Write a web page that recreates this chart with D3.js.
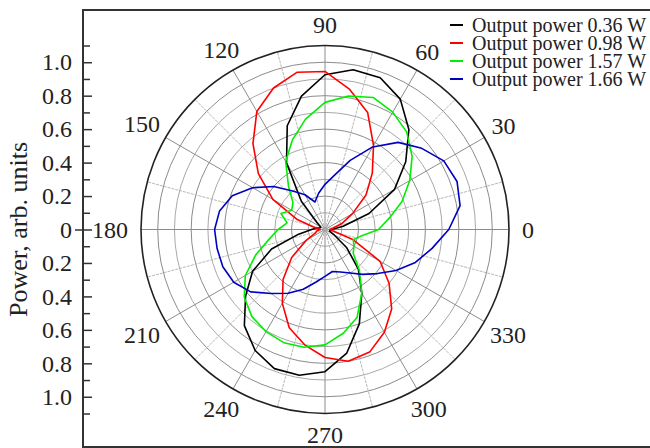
<!DOCTYPE html>
<html>
<head>
<meta charset="utf-8">
<script src="https://cdn.jsdelivr.net/npm/d3@7"></script>
<style>
  body { margin: 0; background: #fff; }
  text { font-family: "Liberation Serif", "Times New Roman", serif; fill: #222; }
</style>
</head>
<body>
<div id="chart"></div>
<script>
// angles in degrees, every 10 deg
var angles = d3.range(0, 360, 10);

var black = [0.04, 0.11, 0.28, 0.48, 0.63, 0.78, 0.90, 0.965, 0.97, 0.925, 0.81, 0.66,
             0.46, 0.22, 0.06, 0.03, 0.03, 0.05, 0.08, 0.16, 0.34, 0.50, 0.62, 0.75,
             0.835, 0.885, 0.885, 0.85, 0.75, 0.60, 0.44, 0.31, 0.17, 0.06, 0.03, 0.03];
var red = [0.03, 0.05, 0.11, 0.19, 0.32, 0.44, 0.58, 0.745, 0.85, 0.945, 0.955, 0.90,
           0.815, 0.67, 0.52, 0.36, 0.18, 0.06, 0.03, 0.05, 0.06, 0.13, 0.26, 0.39,
           0.51, 0.625, 0.70, 0.765, 0.80, 0.78, 0.71, 0.62, 0.50, 0.38, 0.18, 0.05];
var green = [0.32, 0.39, 0.49, 0.585, 0.68, 0.76, 0.81, 0.84, 0.81, 0.76, 0.67, 0.57,
             0.47, 0.34, 0.25, 0.23, 0.28, 0.23, 0.28, 0.34, 0.44, 0.55, 0.63, 0.68,
             0.705, 0.72, 0.715, 0.69, 0.63, 0.56, 0.44, 0.32, 0.22, 0.20, 0.18, 0.22];
var blue = [0.74, 0.82, 0.84, 0.82, 0.755, 0.68, 0.57, 0.44, 0.33, 0.27, 0.22, 0.175,
            0.24, 0.30, 0.40, 0.50, 0.59, 0.64, 0.66, 0.655, 0.65, 0.63, 0.58, 0.50,
            0.44, 0.38, 0.32, 0.28, 0.255, 0.27, 0.30, 0.35, 0.41, 0.49, 0.575, 0.65];

var seriesNames = ['Output power 0.36 W', 'Output power 0.98 W', 'Output power 1.57 W', 'Output power 1.66 W'];
var seriesColors = ['#000000', '#ff0000', '#00ee00', '#0000c0'];
var seriesData = [black, red, green, blue];

var angleLabels = d3.range(0, 360, 30);
var yTicksMajor = [-1.0, -0.8, -0.6, -0.4, -0.2, 0, 0.2, 0.4, 0.6, 0.8, 1.0];
var yTicksMinor = [-1.1, -0.9, -0.7, -0.5, -0.3, -0.1, 0.1, 0.3, 0.5, 0.7, 0.9, 1.1];
var gridCircles = [0.1, 0.2, 0.3, 0.4, 0.5, 0.6, 0.7, 0.8, 0.9, 1.0];

var w = 650, h = 448;
var cx = 325, cy = 229.5;

var svg = d3.select('#chart').append('svg')
	.attr('width', w)
	.attr('height', h);

var rscale = d3.scaleLinear().domain([0, 1.1]).range([0, 184]);
var yscale = d3.scaleLinear().domain([-1.1, 1.1]).range([cy + 184, cy - 184]);

// frame
svg.append('rect')
	.attr('x', 83).attr('y', 10)
	.attr('width', 700).attr('height', 437)
	.attr('fill', 'none')
	.attr('stroke', '#333')
	.attr('stroke-width', 2);

var polar = svg.append('g').attr('transform', 'translate(' + cx + ',' + cy + ')');

// grid circles
polar.selectAll('.gc').data(gridCircles).enter().append('circle')
	.attr('class', 'gc')
	.attr('r', d => rscale(d))
	.attr('fill', 'none')
	.attr('stroke', (d, i) => i % 2 ? '#8c8c8c' : '#a8a8a8')
	.attr('stroke-width', 1);

// spokes every 15 deg
var spokes = d3.range(0, 360, 15);
polar.selectAll('.sp').data(spokes).enter().append('line')
	.attr('class', 'sp')
	.attr('x1', 0).attr('y1', 0)
	.attr('x2', d => rscale(1.1) * Math.cos(d * Math.PI / 180))
	.attr('y2', d => -rscale(1.1) * Math.sin(d * Math.PI / 180))
	.attr('stroke', d => d % 30 ? '#b8b8b8' : '#8c8c8c')
	.attr('stroke-dasharray', d => d % 30 ? '3,1' : null)
	.attr('stroke-width', 1);

// outer circle
polar.append('circle')
	.attr('r', rscale(1.1))
	.attr('fill', 'none')
	.attr('stroke', '#222')
	.attr('stroke-width', 1.6);

// curves
var line = d3.lineRadial()
	.angle((d, i) => Math.PI / 2 - angles[i] * Math.PI / 180)
	.radius(d => rscale(d))
	.curve(d3.curveLinearClosed);

seriesData.forEach(function(s, k) {
	polar.append('path')
		.datum(s)
		.attr('fill', 'none')
		.attr('stroke', seriesColors[k])
		.attr('stroke-width', 1.6)
		.attr('stroke-linejoin', 'round')
		.attr('d', line);
});

// angle labels, pushed out by half their size
function labelR(d) {
	var t = d * Math.PI / 180, hw = String(d).length * 6;
	return 197 + Math.abs(Math.cos(t)) * hw + Math.abs(Math.sin(t)) * 8 - 6 * Math.abs(Math.sin(2 * t));
}
polar.selectAll('.al').data(angleLabels).enter().append('text')
	.attr('class', 'al')
	.attr('font-size', 24)
	.attr('text-anchor', 'middle')
	.attr('dominant-baseline', 'central')
	.attr('x', d => labelR(d) * Math.cos(d * Math.PI / 180))
	.attr('y', d => -labelR(d) * Math.sin(d * Math.PI / 180))
	.text(d => d);

// y axis (ticks point inward)
var yaxis = d3.axisLeft(yscale)
	.tickValues(yTicksMajor)
	.tickSizeInner(-9)
	.tickSizeOuter(0)
	.tickPadding(11)
	.tickFormat(d => d === 0 ? '0' : d3.format('.1f')(Math.abs(d)));

var gy = svg.append('g')
	.attr('transform', 'translate(83,0)')
	.call(yaxis);
gy.select('.domain').remove();
gy.selectAll('line').attr('stroke', '#333').attr('stroke-width', 1.5);
gy.selectAll('text')
	.attr('font-size', 24)
	.attr('font-family', '"Liberation Serif", serif')
	.attr('fill', '#222');

var gm = svg.append('g')
	.attr('transform', 'translate(83,0)')
	.call(d3.axisLeft(yscale).tickValues(yTicksMinor).tickSizeInner(-7).tickSizeOuter(0).tickFormat(''));
gm.select('.domain').remove();
gm.selectAll('line').attr('stroke', '#333').attr('stroke-width', 1.5);

// zero tick crosses the axis
var gz = svg.append('g')
	.attr('transform', 'translate(83,0)')
	.call(d3.axisLeft(yscale).tickValues([0]).tickSizeInner(8).tickSizeOuter(0).tickFormat(''));
gz.select('.domain').remove();
gz.selectAll('line').attr('stroke', '#333').attr('stroke-width', 1.5);

// y title
svg.append('text')
	.attr('transform', 'translate(27,' + cy + ') rotate(-90)')
	.attr('text-anchor', 'middle')
	.attr('font-size', 26)
	.text('Power, arb. units');

// legend
var legend = svg.append('g').attr('transform', 'translate(450,25)');
seriesNames.forEach(function(n, k) {
	var g = legend.append('g').attr('transform', 'translate(0,' + (k * 18) + ')');
	g.append('line')
		.attr('x1', 0).attr('x2', 13)
		.attr('stroke', seriesColors[k])
		.attr('stroke-width', 2);
	g.append('text')
		.attr('x', 22).attr('y', 7)
		.attr('font-size', 20)
		.text(n);
});
</script>
</body>
</html>
